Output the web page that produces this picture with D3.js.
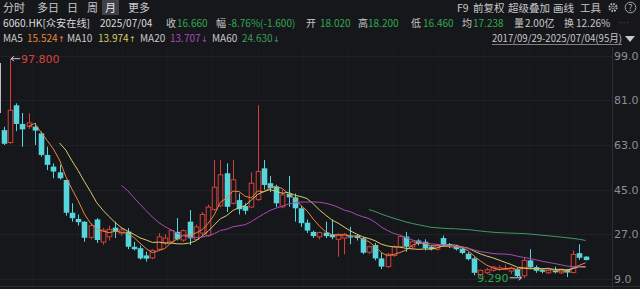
<!DOCTYPE html>
<html>
<head>
<meta charset="utf-8">
<script src="https://cdn.jsdelivr.net/npm/d3@7"></script>
<style>
  html, body { margin: 0; padding: 0; background: #16171b; overflow: hidden; }
  svg { display: block; font-family: "Noto Sans CJK SC", "Noto Sans", sans-serif; }
</style>
</head>
<body>
<div id="chart"></div>
<script>
// Monthly bars 2017/09 .. 2025/07 (95 months)
const opens = [69.0, 64.0, 79.0, 71.5, 70.4, 70.4, 67.7, 59.0, 54.3, 52.0,
  48.9, 35.7, 33.2, 32.1, 25.8, 33.0, 23.9, 26.0, 29.7, 27.5,
  28.1, 22.0, 21.4, 18.5, 17.5, 21.0, 23.5, 24.0, 28.0, 24.7,
  32.1, 25.0, 27.5, 26.5, 37.0, 38.5, 51.6, 39.5, 40.8, 38.4,
  38.0, 41.0, 53.6, 47.6, 46.2, 38.1, 43.3, 41.9, 37.5, 31.7,
  28.0, 26.0, 27.7, 27.0, 25.0, 25.5, 26.2, 26.5, 25.4, 19.8,
  22.7, 17.3, 14.0, 18.5, 22.0, 26.1, 22.0, 24.5, 24.0, 22.0,
  21.0, 25.5, 23.0, 22.3, 21.2, 19.2, 17.3, 10.8, 11.5, 12.5,
  12.8, 13.0, 12.2, 12.9, 10.3, 16.5, 13.8, 12.6, 11.5, 12.3,
  11.5, 12.7, 11.6, 19.4, 18.02];
const highs = [70.4, 97.8, 79.8, 75.9, 75.8, 71.9, 68.4, 62.3, 55.6, 55.0,
  49.0, 39.5, 35.0, 32.3, 31.5, 33.5, 29.5, 30.5, 32.1, 30.0,
  29.5, 24.0, 22.5, 20.0, 21.0, 27.5, 27.0, 29.0, 33.6, 29.0,
  36.8, 31.0, 36.0, 39.0, 57.0, 57.0, 55.6, 57.0, 43.5, 39.5,
  52.0, 79.0, 57.0, 50.5, 47.0, 45.0, 50.5, 43.5, 38.5, 33.0,
  28.5, 28.0, 32.1, 33.0, 27.5, 27.5, 30.0, 27.0, 26.0, 22.5,
  23.5, 19.5, 19.5, 22.5, 26.5, 28.0, 24.5, 25.0, 25.0, 22.5,
  23.0, 26.5, 23.5, 22.8, 21.8, 19.8, 17.8, 12.8, 13.5, 14.3,
  14.5, 14.8, 14.0, 13.5, 17.5, 21.0, 14.5, 13.0, 12.8, 14.0,
  13.2, 13.0, 20.5, 23.0, 18.2];
const lows = [63.0, 63.5, 68.6, 62.3, 69.5, 63.0, 58.3, 52.9, 49.6, 49.0,
  34.5, 32.1, 30.5, 24.0, 25.0, 23.5, 22.8, 24.5, 25.5, 26.5,
  21.0, 20.5, 16.8, 16.0, 17.0, 20.5, 22.5, 23.5, 24.5, 24.0,
  22.7, 24.5, 26.5, 26.0, 36.5, 38.0, 36.0, 39.0, 35.0, 35.0,
  37.5, 40.5, 45.0, 44.0, 38.0, 37.5, 38.1, 32.1, 30.0, 27.5,
  25.5, 25.0, 25.5, 25.0, 18.0, 19.0, 23.0, 24.5, 19.0, 19.0,
  16.5, 13.0, 13.5, 18.0, 21.5, 20.0, 21.0, 22.5, 20.5, 20.5,
  20.5, 22.0, 21.5, 20.5, 19.0, 16.5, 10.5, 9.9, 11.0, 12.0,
  12.3, 12.5, 11.0, 9.8, 9.29, 13.0, 11.5, 11.3, 11.0, 11.3,
  11.0, 9.8, 11.3, 16.7, 16.46];
const closes = [63.5, 77.0, 71.5, 69.3, 71.9, 68.8, 59.0, 55.0, 52.3, 49.6,
  35.7, 33.5, 31.9, 25.6, 30.5, 24.7, 28.7, 29.0, 28.1, 28.8,
  22.0, 21.0, 17.3, 17.2, 20.5, 26.0, 25.5, 28.5, 25.0, 28.5,
  25.4, 30.0, 35.0, 38.0, 46.0, 51.0, 38.1, 49.0, 37.1, 36.5,
  47.6, 52.3, 46.9, 45.6, 39.5, 42.9, 41.9, 37.5, 31.5, 28.5,
  26.3, 27.7, 26.3, 25.8, 27.0, 27.0, 26.0, 25.5, 19.6, 22.0,
  17.3, 14.0, 19.0, 22.0, 26.1, 22.0, 24.0, 23.3, 21.4, 21.0,
  22.5, 22.7, 22.3, 21.0, 19.5, 17.0, 11.5, 12.5, 12.7, 13.8,
  13.5, 13.3, 13.4, 10.2, 16.5, 13.8, 12.3, 11.9, 12.4, 11.72,
  12.9, 11.6, 18.9, 17.56, 16.66];

const yTicks = [9, 27, 45, 63, 81, 99];
const maPeriods = [5, 10, 20, 60];
const maColors = ['#e8873e', '#d9cb68', '#a64cb3', '#3f9c5e'];
const maValues = ['15.524', '13.974', '13.707', '24.630'];
const maTrend = ['↑', '↑', '↓', '↓'];

const tabs = ['分时', '多日', '日', '周', '月', '更多'];
const activeTab = '月';
const tools = ['F9', '前复权', '超级叠加', '画线', '工具'];
const quoteLabels = ['收', '幅', '开', '高', '低', '均', '量', '换'];
const quoteValues = ['16.660', '-8.76%(-1.600)', '18.020', '18.200', '16.460', '17.238', '2.00亿', '12.26%'];
const stockName = '6060.HK[众安在线]';
const quoteDate = '2025/07/04';
const rangeText = '2017/09/29-2025/07/04(95月)';

const W = 640, H = 289;
const BG = '#16171b';
const UP = '#d63f3b', DOWN = '#55d5dc';
const GREEN = '#2fa84f', LABEL = '#c8c8c8';
const plotRight = 612, plotTop = 47;

const months = d3.range(opens.length);
const svg = d3.select('#chart').append('svg').attr('width', W).attr('height', H);
svg.append('rect').attr('width', W).attr('height', H).attr('fill', BG);

const x = d3.scaleBand().domain(months).range([1.6, 587.8]).paddingInner(0.26);
const y = d3.scaleLinear().domain([9, 99]).range([279, 55.7]);
const cx = i => x(i) + x.bandwidth() / 2;

// grid
const grid = svg.append('g');
grid.selectAll('line.h').data(yTicks).join('line')
  .attr('x1', 0).attr('x2', plotRight)
  .attr('y1', d => Math.round(y(d)) + 0.5).attr('y2', d => Math.round(y(d)) + 0.5)
  .attr('stroke', '#1f2126');
grid.selectAll('line.v').data(d3.range(31.5, plotRight, 45.2)).join('line')
  .attr('x1', d => Math.round(d) + 0.5).attr('x2', d => Math.round(d) + 0.5)
  .attr('y1', plotTop).attr('y2', 286)
  .attr('stroke', '#1d1f24').attr('stroke-dasharray', '2,2');

// frame lines
svg.append('line').attr('x1', plotRight + 0.5).attr('x2', plotRight + 0.5)
  .attr('y1', plotTop).attr('y2', H).attr('stroke', '#2c2e34');
svg.append('line').attr('x1', 0).attr('x2', W).attr('y1', 286.5).attr('y2', 286.5)
  .attr('stroke', '#2a2c31');
svg.append('line').attr('x1', 0.5).attr('x2', 0.5).attr('y1', 63).attr('y2', 113)
  .attr('stroke', '#b9bcc2');

// y axis on the right
const axis = svg.append('g').attr('transform', `translate(${plotRight + 1},0)`)
  .call(d3.axisRight(y).tickValues(yTicks).tickFormat(d3.format('.1f')).tickSize(0).tickPadding(1));
axis.select('.domain').remove();
axis.selectAll('text').attr('fill', '#8b8e95').style('font-size', '11px')
  .style('font-family', '"DejaVu Sans", sans-serif');

// candles
const candles = svg.append('g');
months.forEach(i => {
  const up = closes[i] >= opens[i];
  const col = up ? UP : DOWN;
  const xc = Math.round(cx(i)) + 0.5;
  const top = y(Math.max(opens[i], closes[i]));
  const bot = y(Math.min(opens[i], closes[i]));
  candles.append('line').attr('x1', xc).attr('x2', xc)
    .attr('y1', y(highs[i])).attr('y2', y(lows[i])).attr('stroke', col);
  const bw = x.bandwidth();
  if (up) {
    candles.append('rect').attr('x', xc - bw / 2).attr('y', top)
      .attr('width', bw).attr('height', Math.max(1, bot - top))
      .attr('fill', BG).attr('stroke', col).attr('stroke-width', 1);
  } else {
    candles.append('rect').attr('x', xc - bw / 2 - 0.5).attr('y', top)
      .attr('width', bw + 1).attr('height', Math.max(1.2, bot - top))
      .attr('fill', col);
  }
});

// moving averages of the closes
maPeriods.forEach((p, k) => {
  const pts = months.filter(i => i >= p - 1)
    .map(i => [i, d3.mean(closes.slice(i - p + 1, i + 1))]);
  svg.append('path').datum(pts)
    .attr('fill', 'none').attr('stroke', maColors[k]).attr('stroke-width', 1)
    .attr('d', d3.line().x(d => cx(d[0])).y(d => y(d[1])));
});

// max / min markers
const iMax = d3.maxIndex(highs), iMin = d3.minIndex(lows);
const marker = (x1, x2, yy) => {
  svg.append('line').attr('x1', x1).attr('x2', x2).attr('y1', yy).attr('y2', yy)
    .attr('stroke', '#c9cbd0');
  const dir = x2 > x1 ? -1 : 1;
  svg.append('path').attr('d', `M${x2},${yy} l${dir * 3},-2.5 M${x2},${yy} l${dir * 3},2.5`)
    .attr('stroke', '#c9cbd0').attr('fill', 'none');
};
const maxY = y(highs[iMax]);
marker(cx(iMax) + 10, cx(iMax) + 1, maxY);
svg.append('text').attr('x', cx(iMax) + 11).attr('y', maxY).attr('dy', '0.36em')
  .attr('fill', '#d9423e').style('font-size', '11px')
  .style('font-family', '"DejaVu Sans", sans-serif').text(highs[iMax].toFixed(3));
const minY = y(lows[iMin]) - 0.5;
marker(cx(iMin) - 14, cx(iMin) - 2, minY);
svg.append('text').attr('x', cx(iMin) - 15).attr('y', minY).attr('dy', '0.36em')
  .attr('text-anchor', 'end').attr('fill', GREEN).style('font-size', '11px')
  .style('font-family', '"DejaVu Sans", sans-serif').text(lows[iMin].toFixed(3));

// header
const head = svg.append('g').style('font-size', '10px');
const tabX = [3, 37, 67, 87, 105, 128];
head.append('rect').attr('x', 102).attr('y', 0).attr('width', 17).attr('height', 15)
  .attr('fill', '#3f4147');
tabs.forEach((t, k) => {
  head.append('text').attr('x', tabX[k]).attr('y', 11.5).style('font-size', '11px')
    .attr('fill', t === activeTab ? '#e8e8e8' : LABEL).text(t);
});
const toolX = [457, 473, 508, 553, 580];
tools.forEach((t, k) => {
  head.append('text').attr('x', toolX[k]).attr('y', 11.5).attr('fill', LABEL)
    .style('font-size', '10.5px').text(t);
});
head.append('circle').attr('cx', 613).attr('cy', 7.5).attr('r', 3.6)
  .attr('fill', 'none').attr('stroke', '#b5b5b5').attr('stroke-width', 2)
  .attr('stroke-dasharray', '1.6,1.2');
head.append('circle').attr('cx', 613).attr('cy', 7.5).attr('r', 1.4)
  .attr('fill', BG).attr('stroke', '#b5b5b5').attr('stroke-width', 0.8);
head.append('circle').attr('cx', 630.5).attr('cy', 7.5).attr('r', 5.3)
  .attr('fill', 'none').attr('stroke', '#b5b5b5').attr('stroke-width', 0.9);
head.append('text').attr('x', 630.5).attr('y', 11).attr('text-anchor', 'middle')
  .attr('fill', '#b5b5b5').style('font-size', '9px').text('?');

// quote row
const r2 = 26.5;
head.append('text').attr('x', 3).attr('y', r2).attr('fill', '#dcdcdc')
  .attr('textLength', 87).attr('lengthAdjust', 'spacingAndGlyphs').text(stockName);
head.append('text').attr('x', 100).attr('y', r2).attr('fill', '#dcdcdc').text(quoteDate);
const qLabelX = [166, 216, 306, 358, 411, 462, 514, 564];
const qValueX = [177, 228, 320, 368, 423, 473, 525, 576];
quoteLabels.forEach((t, k) => {
  head.append('text').attr('x', qLabelX[k]).attr('y', r2).attr('fill', LABEL).text(t);
  const isGreen = k < 6;
  head.append('text').attr('x', qValueX[k]).attr('y', r2)
    .attr('fill', isGreen ? GREEN : LABEL).text(quoteValues[k]);
});
head.append('text').attr('x', 619).attr('y', r2).attr('fill', '#7a3434').text('…');

// MA row
const r3 = 41.5;
const maLabelX = [3, 67, 140, 212];
const maValueX = [27, 98, 170, 242];
maPeriods.forEach((p, k) => {
  head.append('text').attr('x', maLabelX[k]).attr('y', r3).attr('fill', LABEL).text('MA' + p);
  const t = head.append('text').attr('x', maValueX[k]).attr('y', r3).attr('fill', maColors[k]);
  t.append('tspan').text(maValues[k]);
  t.append('tspan').attr('dx', 0.5).style('font-family', '"DejaVu Sans", sans-serif')
    .style('font-size', '8px').text(maTrend[k]);
});
head.append('text').attr('x', 492).attr('y', r3).attr('fill', LABEL)
  .attr('textLength', 130).attr('lengthAdjust', 'spacingAndGlyphs').text(rangeText);
head.append('line').attr('x1', 492).attr('x2', 622).attr('y1', 44.5).attr('y2', 44.5)
  .attr('stroke', '#9a9a9a').attr('stroke-width', 0.8);
head.append('path').attr('d', 'M625,36 L635,36 L630,42 Z').attr('fill', '#c8c8c8');
</script>
</body>
</html>
